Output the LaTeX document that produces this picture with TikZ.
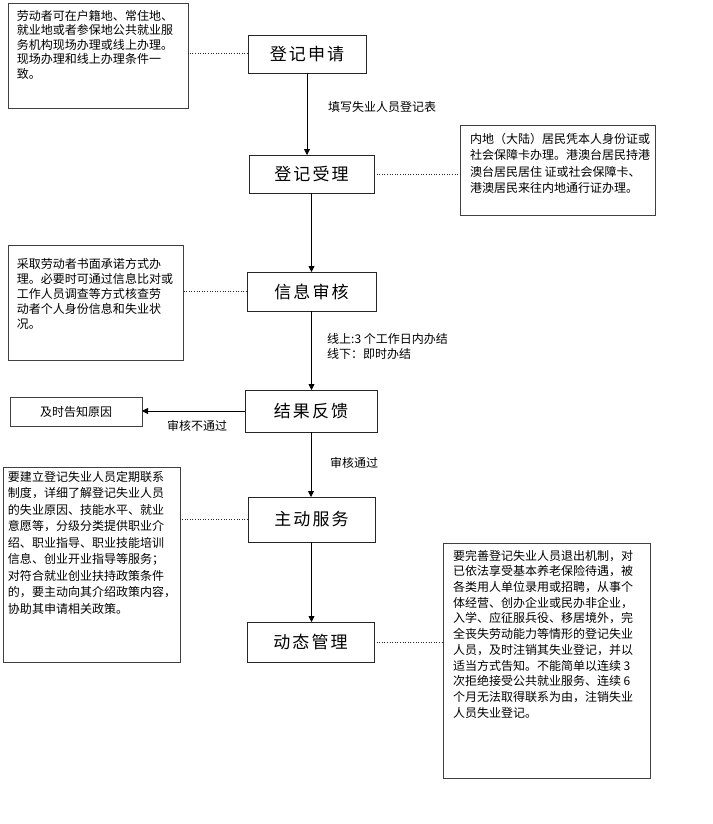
\documentclass[tikz,border=0pt]{standalone}
\usepackage{fontspec}
\setmainfont{Noto Sans CJK SC}
\newfontfamily\cjktitle[LetterSpace=12]{Noto Sans CJK SC}
\usetikzlibrary{arrows.meta}
\newcommand{\notetxt}[6]{\hspace*{#1}\parbox[c][#2][t]{#3}{\vspace*{#4}\fontsize{12}{#5}\selectfont #6}}
\begin{document}
\begin{tikzpicture}[x=1pt,y=-1pt,
  title/.style={draw=black!85,line width=0.9pt,inner sep=0pt,outer sep=0pt,anchor=north west,
    font=\cjktitle\fontsize{17}{20}\selectfont},
  notebox/.style={draw=black!75,line width=0.9pt,inner sep=0pt,outer sep=0pt,anchor=north west,align=left},
  lbl/.style={font=\fontsize{12}{15}\selectfont,inner sep=0pt,anchor=west},
  flow/.style={line width=0.8pt,-{Triangle[length=6pt,width=6pt]}},
  dots/.style={line width=1pt,black!85,dash pattern=on 1pt off 1.6pt}
]
\useasboundingbox (0,0) rectangle (712,824);
% main steps
\node[title,minimum width=118,minimum height=38] (t1) at (248,35) {登记申请};
\node[title,minimum width=125,minimum height=38] (t2) at (249,155) {登记受理};
\node[title,minimum width=129,minimum height=39] (t3) at (247,272) {信息审核};
\node[title,minimum width=132,minimum height=42] (t4) at (245,390) {结果反馈};
\node[title,minimum width=127,minimum height=45] (t5) at (248,497) {主动服务};
\node[title,minimum width=127,minimum height=40] (t6) at (247,622) {动态管理};
\node[notebox,minimum width=132,minimum height=29,align=center,font=\fontsize{12}{15}\selectfont] (r) at (10,397) {及时告知原因};
% notes
\node[notebox] (n1) at (8,3) {\notetxt{9pt}{105pt}{171pt}{7pt}{14.5}{劳动者可在户籍地、常住地、\\就业地或者参保地公共就业服\\务机构现场办理或线上办理。\\现场办理和线上办理条件一\\致。}};
\node[notebox] (n2) at (460,125) {\notetxt{10pt}{90pt}{185pt}{8pt}{16.5}{内地（大陆）居民凭本人身份证或\\社会保障卡办理。港澳台居民持港\\澳台居民居住 证或社会保障卡、\\港澳居民来往内地通行证办理。}};
\node[notebox] (n3) at (8,245) {\notetxt{9pt}{115pt}{166pt}{13pt}{15}{采取劳动者书面承诺方式办\\理。必要时可通过信息比对或\\工作人员调查等方式核查劳\\动者个人身份信息和失业状\\况。}};
\node[notebox] (n4) at (3,467) {\notetxt{5pt}{195pt}{172pt}{4pt}{16.5}{要建立登记失业人员定期联系\\制度，详细了解登记失业人员\\的失业原因、技能水平、就业\\意愿等，分级分类提供职业介\\绍、职业指导、职业技能培训\\信息、创业开业指导等服务；\\对符合就业创业扶持政策条件\\的，要主动向其介绍政策内容，\\协助其申请相关政策。}};
\node[notebox] (n5) at (443,543) {\notetxt{10pt}{235pt}{197pt}{7pt}{15.7}{要完善登记失业人员退出机制，对\\已依法享受基本养老保险待遇，被\\各类用人单位录用或招聘，从事个\\体经营、创办企业或民办非企业，\\入学、应征服兵役、移居境外，完\\全丧失劳动能力等情形的登记失业\\人员，及时注销其失业登记，并以\\适当方式告知。不能简单以连续 3\\次拒绝接受公共就业服务、连续 6\\个月无法取得联系为由，注销失业\\人员失业登记。}};
% flow arrows
\draw[flow] (t1.south) -- (t1.south |- t2.north);
\draw[flow] (t2.south) -- (t2.south |- t3.north);
\draw[flow] (t3.south) -- (t3.south |- t4.north);
\draw[flow] (t4.south) -- (t4.south |- t5.north);
\draw[flow] (t5.south) -- (t5.south |- t6.north);
\draw[flow] (t4.west) -- (t4.west -| r.east);
% dotted links
\draw[dots] (t1.west) -- (t1.west -| n1.east);
\draw[dots] (t2.east) -- (t2.east -| n2.west);
\draw[dots] (t3.west) -- (t3.west -| n3.east);
\draw[dots] (t5.west) -- (t5.west -| n4.east);
\draw[dots] (t6.east) -- (t6.east -| n5.west);
% labels
\node[lbl] (l1) at (328,107) {填写失业人员登记表};
\node[lbl,align=left] (l2) at (327,346) {线上:3 个工作日内办结\\线下：即时办结};
\node[lbl,anchor=center] (l3) at (197,426) {审核不通过};
\node[lbl] (l4) at (330,463) {审核通过};
\end{tikzpicture}
\end{document}
